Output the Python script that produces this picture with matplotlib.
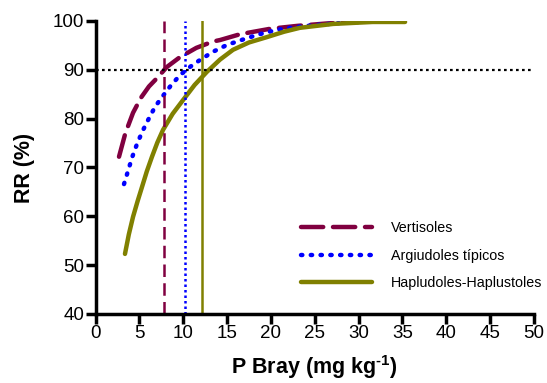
import matplotlib.pyplot as plt

plt.rcParams['font.family'] = ['Liberation Sans', 'DejaVu Sans']
plt.rcParams['mathtext.fontset'] = 'custom'
plt.rcParams['mathtext.rm'] = 'Liberation Sans:bold'
plt.rcParams['mathtext.bf'] = 'Liberation Sans:bold'

# curves
vert_x = [2.68, 3.4, 4.28, 5.19, 6.1, 7.01, 8.15, 9.63, 11.5, 13.4, 14.2, 16.5, 19.9, 23.0, 26.4, 29.5, 32.8, 35.0]
vert_y = [72.2, 77.0, 81.2, 84.3, 86.6, 88.3, 90.6, 92.6, 94.5, 95.8, 96.1, 97.3, 98.4, 99.0, 99.5, 99.8, 100.0, 100.0]

argi_x = [3.25, 3.71, 4.2, 4.73, 5.35, 5.99, 6.78, 7.58, 8.6, 9.63, 10.7, 11.9, 13.4, 15.0, 16.3, 18.5, 20.7, 23.0, 25.3, 28.7, 31.5, 34.7]
argi_y = [66.6, 69.3, 72.2, 74.8, 77.4, 79.7, 82.4, 84.4, 86.8, 88.9, 90.5, 92.0, 93.7, 95.1, 95.9, 97.2, 98.2, 98.8, 99.2, 99.7, 99.9, 100.0]

haplu_x = [3.36, 3.8, 4.28, 4.8, 5.3, 5.85, 6.44, 7.05, 7.7, 8.8, 9.98, 11.3, 12.71, 14.2, 15.68, 17.5, 19.55, 21.5, 23.3, 25.2, 27.1, 29.3, 31.6, 35.3]
haplu_y = [52.3, 56.3, 59.9, 63.1, 66.0, 69.2, 72.2, 75.1, 77.7, 81.0, 83.8, 86.9, 89.6, 92.1, 94.1, 95.6, 96.7, 97.8, 98.6, 99.0, 99.4, 99.6, 99.8, 99.8]

# P Bray at RR = 90%
vlines_x = [7.83, 10.24, 12.17]

maroon = '#800040'
blue = '#0000ff'
olive = '#808000'

fig = plt.figure(figsize=(5.47, 3.83), dpi=100)
ax = fig.add_axes([0.1746, 0.1802, 0.8016, 0.765])

ax.plot(vert_x, vert_y, color=maroon, lw=3.2, linestyle=(0, (5, 2.2)),
        dash_capstyle='round', solid_joinstyle='round', label='Vertisoles')
ax.plot(argi_x, argi_y, color=blue, lw=3.2, linestyle=(0, (0.3, 1.9)),
        dash_capstyle='round', label='Argiudoles típicos')
ax.plot(haplu_x, haplu_y, color=olive, lw=3.2, solid_capstyle='round',
        solid_joinstyle='round', label='Hapludoles-Haplustoles')

ax.axvline(vlines_x[0], color=maroon, lw=1.8, linestyle=(0, (5, 2.5)))
ax.axvline(vlines_x[1], color=blue, lw=1.8, linestyle=(0, (1, 1.2)))
ax.axvline(vlines_x[2], color=olive, lw=1.8)
ax.axhline(90, color='black', lw=1.6, linestyle=(0, (1.2, 1.5)))

ax.set_xlim(0, 50)
ax.set_ylim(40, 100)
ax.set_xticks(range(0, 51, 5))
ax.set_yticks(range(40, 101, 10))
for s in ['top', 'right']:
    ax.spines[s].set_visible(False)
for s in ['left', 'bottom']:
    ax.spines[s].set_linewidth(2.5)
ax.tick_params(width=2.5, length=7, labelsize=13.5, pad=1)

ax.set_xlabel('P Bray (mg kg$^{\\text{-1}}$)', fontsize=15.5, fontweight='bold', labelpad=8)
ax.set_ylabel('RR (%)', fontsize=15.5, fontweight='bold', labelpad=13)

ax.legend(loc='center left', bbox_to_anchor=(0.5497, 0.332), bbox_transform=fig.transFigure,
          frameon=False, fontsize=10.3, handlelength=5.0, labelspacing=0.95,
          handletextpad=1.3, borderpad=0, borderaxespad=0)

fig.savefig('out.png', dpi=100)
